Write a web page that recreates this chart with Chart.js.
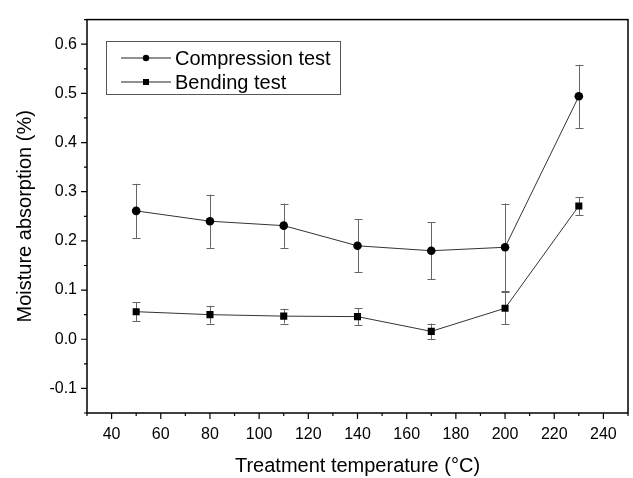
<!DOCTYPE html>
<html><head><meta charset="utf-8">
<script src="https://cdn.jsdelivr.net/npm/chart.js@4/dist/chart.umd.min.js"></script>
<style>html,body{margin:0;padding:0;background:#fff}</style>
</head><body>
<canvas id="c" width="633" height="478"></canvas>
<script>
const seriesNames = ['Compression test', 'Bending test'];
const temperatures = [50, 80, 110, 140, 170, 200, 230];
const compression = [0.261, 0.240, 0.231, 0.190, 0.180, 0.187, 0.494];
const compressionErr = [0.055, 0.054, 0.045, 0.054, 0.058, 0.089, 0.064];
const bending = [0.056, 0.050, 0.047, 0.046, 0.016, 0.063, 0.271];
const bendingErr = [0.019, 0.018, 0.015, 0.017, 0.016, 0.033, 0.018];
const xTicks = [40, 60, 80, 100, 120, 140, 160, 180, 200, 220, 240];
const xMinorTicks = [30, 50, 70, 90, 110, 130, 150, 170, 190, 210, 230, 250];
const yTicks = [-0.1, 0.0, 0.1, 0.2, 0.3, 0.4, 0.5, 0.6];
const yMinorTicks = [-0.15, -0.05, 0.05, 0.15, 0.25, 0.35, 0.45, 0.55, 0.65];
const xTitle = 'Treatment temperature (°C)';
const yTitle = 'Moisture absorption (%)';

const FONT = "'Liberation Sans', Arial, sans-serif";
Chart.defaults.font.family = FONT;
Chart.defaults.color = '#000';

const errors = [compressionErr, bendingErr];

const framePlugin = {
  id: 'frame',
  beforeDatasetsDraw(chart) {
    const ctx = chart.ctx, xs = chart.scales.x, ys = chart.scales.y;
    ctx.save();
    ctx.strokeStyle = '#666';
    ctx.lineWidth = 1;
    chart.data.datasets.forEach((ds, i) => {
      ds.data.forEach((p, j) => {
        const e = errors[i][j];
        const px = Math.round(xs.getPixelForValue(p.x)) + 0.5;
        const top = ys.getPixelForValue(p.y + e);
        const bot = ys.getPixelForValue(p.y - e);
        ctx.beginPath();
        ctx.moveTo(px, top); ctx.lineTo(px, bot);
        ctx.moveTo(px - 4, Math.round(top) + 0.5); ctx.lineTo(px + 4, Math.round(top) + 0.5);
        ctx.moveTo(px - 4, Math.round(bot) + 0.5); ctx.lineTo(px + 4, Math.round(bot) + 0.5);
        ctx.stroke();
      });
    });
    ctx.restore();
  },
  afterDraw(chart) {
    const ctx = chart.ctx, a = chart.chartArea, xs = chart.scales.x, ys = chart.scales.y;
    ctx.save();
    ctx.strokeStyle = '#000';
    ctx.lineWidth = 1.5;
    ctx.strokeRect(a.left, a.top, a.right - a.left, a.bottom - a.top);
    ctx.lineWidth = 1.2;
    ctx.beginPath();
    xTicks.forEach(v => { const p = xs.getPixelForValue(v); ctx.moveTo(p, a.bottom); ctx.lineTo(p, a.bottom + 6); });
    xMinorTicks.forEach(v => { const p = xs.getPixelForValue(v); ctx.moveTo(p, a.bottom); ctx.lineTo(p, a.bottom + 3); });
    yTicks.forEach(v => { const p = ys.getPixelForValue(v); ctx.moveTo(a.left, p); ctx.lineTo(a.left - 6, p); });
    yMinorTicks.forEach(v => { const p = ys.getPixelForValue(v); ctx.moveTo(a.left, p); ctx.lineTo(a.left - 3, p); });
    ctx.stroke();

    // legend
    const bx = 106.5, by = 41.5, bw = 234, bh = 53;
    ctx.lineWidth = 1;
    ctx.strokeStyle = '#555';
    ctx.strokeRect(bx, by, bw, bh);
    const rows = [58, 82];
    ctx.font = '20px ' + FONT;
    ctx.textBaseline = 'middle';
    ctx.fillStyle = '#000';
    chart.data.datasets.forEach((ds, i) => {
      const y = rows[i];
      ctx.strokeStyle = '#222';
      ctx.lineWidth = 1;
      ctx.beginPath(); ctx.moveTo(121, y); ctx.lineTo(171, y); ctx.stroke();
      ctx.beginPath();
      if (i === 0) { ctx.arc(146, y, 3.2, 0, Math.PI * 2); ctx.fill(); }
      else { ctx.fillRect(143, y - 3, 6, 6); }
      ctx.fillText(ds.label, 175, y + 1);
    });
    ctx.restore();
  }
};

const toPts = (ys) => temperatures.map((t, i) => ({x: t, y: ys[i]}));

new Chart(document.getElementById('c'), {
  type: 'line',
  data: {
    datasets: [
      { label: seriesNames[0], data: toPts(compression), borderColor: '#333', borderWidth: 1,
        pointStyle: 'circle', pointRadius: 4.3, pointBackgroundColor: '#000', pointBorderColor: '#000', pointBorderWidth: 0 },
      { label: seriesNames[1], data: toPts(bending), borderColor: '#333', borderWidth: 1,
        pointStyle: 'rect', pointRadius: 5, pointBackgroundColor: '#000', pointBorderColor: '#000', pointBorderWidth: 0 }
    ]
  },
  options: {
    responsive: false, animation: false, devicePixelRatio: 1,
    layout: { padding: { top: 11, right: 1, left: 0, bottom: 0 } },
    plugins: { legend: { display: false }, tooltip: { enabled: false } },
    scales: {
      x: {
        type: 'linear', min: 30, max: 250,
        grid: { display: false, drawTicks: false }, border: { display: false },
        afterBuildTicks: s => { s.ticks = xTicks.map(v => ({value: v})); },
        afterFit: s => { s.height = 65; },
        ticks: { font: { size: 16 }, color: '#000', padding: 12, maxRotation: 0, autoSkip: false,
          callback: v => String(v) },
        title: { display: true, text: xTitle, font: { size: 20 }, color: '#000', padding: { top: 0, bottom: 0 } }
      },
      y: {
        type: 'linear', min: -0.15, max: 0.65,
        grid: { display: false, drawTicks: false }, border: { display: false },
        afterBuildTicks: s => { s.ticks = yTicks.map(v => ({value: v})); },
        afterFit: s => { s.width = 87; },
        ticks: { font: { size: 16 }, color: '#000', padding: 10, autoSkip: false,
          callback: v => Number(v).toFixed(1) },
        title: { display: true, text: yTitle, font: { size: 20 }, color: '#000', padding: { top: 13, bottom: 0 } }
      }
    }
  },
  plugins: [framePlugin]
});
</script>
</body></html>
